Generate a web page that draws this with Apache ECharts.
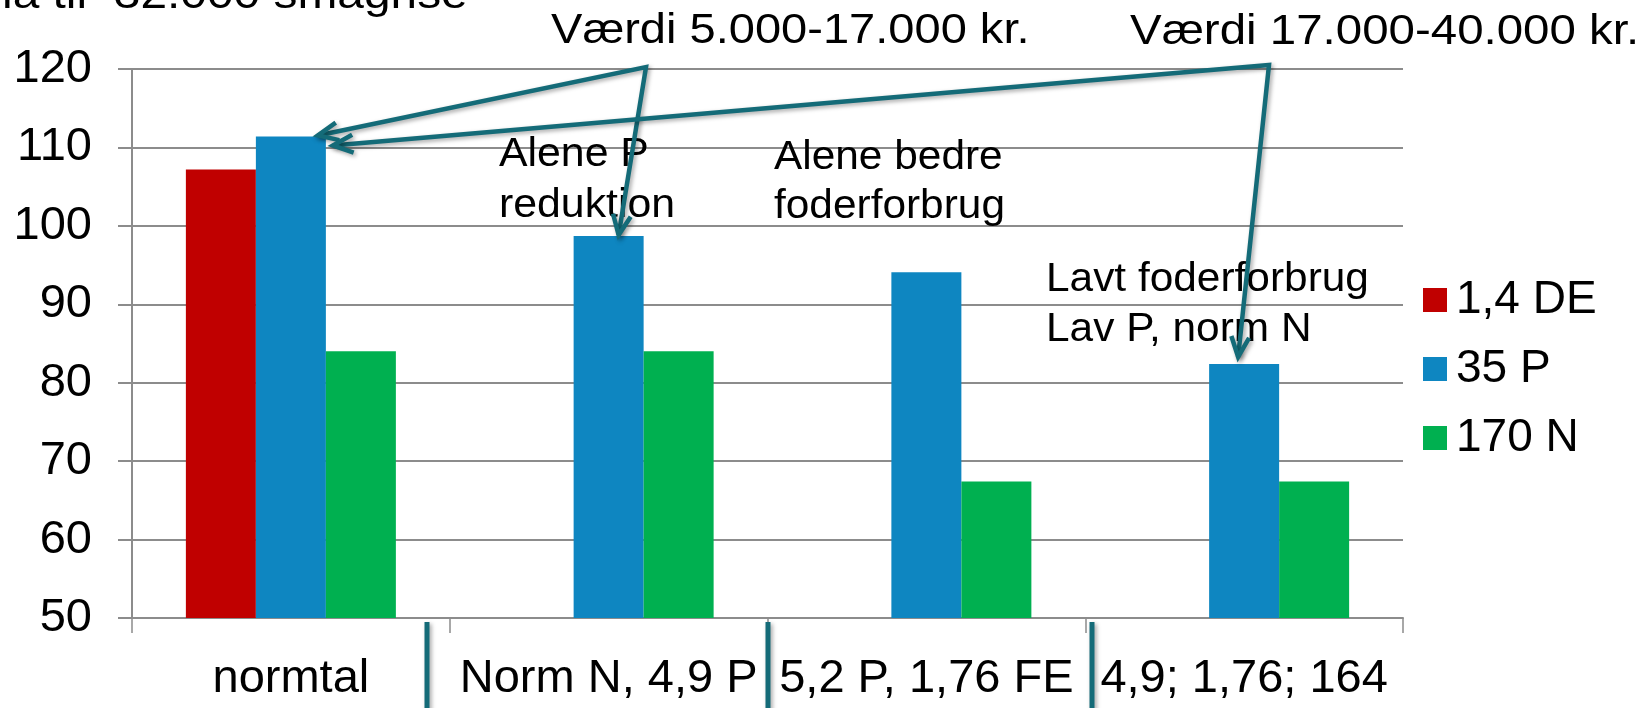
<!DOCTYPE html>
<html>
<head>
<meta charset="utf-8">
<title>Værdi af reduktion</title>
<script src="https://cdn.jsdelivr.net/npm/echarts@6/dist/echarts.min.js"></script>
<style>
  html, body { margin: 0; padding: 0; background: #fff; }
  #main { width: 1650px; height: 708px; }
</style>
</head>
<body>
<div id="main"></div>
<script>
// data
const categories = ["normtal", "Norm N, 4,9 P", "5,2 P, 1,76 FE", "4,9; 1,76; 164"];
const seriesNames = ["1,4 DE", "35 P", "170 N"];
const valuesDE = [107.2, null, null, null];
const valuesP = [111.4, 98.7, 94.1, 82.4];
const valuesN = [84.0, 84.0, 67.4, 67.4];
const yMin = 50;
const yMax = 120;
const yStep = 10;

const FONT = '"Liberation Sans", Arial, sans-serif';
const TEAL = "#146b78";
const GRID_GRAY = "#8c8c8c";

let chart = echarts.init(document.getElementById("main"), null, { renderer: "canvas" });

let option = {
  animation: false,
  backgroundColor: "#fff",
  grid: { left: 132, right: 247, top: 69, bottom: 90 },
  legend: {
    orient: "vertical",
    left: 1423,
    top: 277,
    padding: 0,
    itemWidth: 24,
    itemHeight: 24,
    itemGap: 23,
    icon: "rect",
    data: seriesNames,
    textStyle: { fontSize: 46, lineHeight: 46, fontFamily: FONT, color: "#000", padding: [0, 0, 0, 4] }
  },
  xAxis: {
    type: "category",
    data: categories,
    axisLine: { show: true, lineStyle: { color: GRID_GRAY, width: 2 } },
    axisTick: { show: true, length: 15, lineStyle: { color: GRID_GRAY, width: 1.5 } },
    axisLabel: { interval: 0, margin: 38, fontSize: 47, fontFamily: FONT, color: "#000" }
  },
  yAxis: {
    type: "value",
    min: yMin,
    max: yMax,
    interval: yStep,
    axisLine: { show: true, lineStyle: { color: GRID_GRAY, width: 2 } },
    axisTick: { show: true, length: 14, lineStyle: { color: GRID_GRAY, width: 2 } },
    splitLine: { show: true, lineStyle: { color: GRID_GRAY, width: 2 } },
    axisLabel: { margin: 40, fontSize: 47, fontFamily: FONT, color: "#000" }
  },
  series: [
    { name: seriesNames[0], type: "bar", data: valuesDE, barWidth: 70, barGap: "0%", itemStyle: { color: "#c00000" } },
    { name: seriesNames[1], type: "bar", data: valuesP, barWidth: 70, barGap: "0%", itemStyle: { color: "#0e86c1" } },
    { name: seriesNames[2], type: "bar", data: valuesN, barWidth: 70, barGap: "0%", itemStyle: { color: "#00b050" } }
  ]
};
chart.setOption(option);

// annotation arrows, tips hooked to the blue bars
function toPx(ci, v) {
  return chart.convertToPixel({ xAxisIndex: 0, yAxisIndex: 0 }, [ci, v]);
}
const shadow = { shadowBlur: 4, shadowOffsetX: 2, shadowOffsetY: 2, shadowColor: "rgba(0,0,0,0.35)" };
function lineStyle() {
  return Object.assign({ stroke: TEAL, lineWidth: 4.5, fill: null, lineJoin: "miter" }, shadow);
}
function chevron(tip, from) {
  let dx = tip[0] - from[0], dy = tip[1] - from[1];
  let len = Math.sqrt(dx * dx + dy * dy);
  let ux = dx / len, uy = dy / len;
  let arm = 22, a = 24 * Math.PI / 180;
  let p1 = [tip[0] - arm * (ux * Math.cos(a) - uy * Math.sin(a)), tip[1] - arm * (ux * Math.sin(a) + uy * Math.cos(a))];
  let p2 = [tip[0] - arm * (ux * Math.cos(-a) - uy * Math.sin(-a)), tip[1] - arm * (ux * Math.sin(-a) + uy * Math.cos(-a))];
  return { type: "polyline", shape: { points: [p1, tip, p2] }, style: lineStyle(), z: 100 };
}
function label(text, x, y, size, sx) {
  return {
    type: "text", x: x, y: y, scaleX: sx || 1, z: 90,
    style: { text: text, font: size + "px " + FONT, fill: "#000", textVerticalAlign: "middle", textAlign: "left" }
  };
}
function labelLines(lines, x, y, size, sx, lh) {
  return lines.map((t, i) => label(t, x, y + i * lh, size, sx));
}

let b0 = toPx(0, valuesP[0]);
let b1 = toPx(1, valuesP[1]);
let b3 = toPx(3, valuesP[3]);
let tipA = [b0[0] + 27, b0[1] - 1];
let tipC = [b0[0] + 42, b0[1] + 9];
let tipB = [b1[0] + 10, b1[1] - 1];
let tipD = [b3[0] - 6, b3[1] - 7];
let o1 = [646, 67];
let o2 = [1269, 65];

let graphics = [
  { type: "polyline", shape: { points: [tipA, o1, tipB] }, style: lineStyle(), z: 100 },
  { type: "polyline", shape: { points: [tipC, o2, tipD] }, style: lineStyle(), z: 100 },
  chevron(tipA, o1),
  chevron(tipB, o1),
  chevron(tipC, o2),
  chevron(tipD, o2)
];
[427, 768, 1092].forEach(x => {
  graphics.push({ type: "line", shape: { x1: x, y1: 622, x2: x, y2: 720 }, style: Object.assign({ stroke: TEAL, lineWidth: 5 }, shadow), z: 100 });
});

graphics = graphics.concat(
  [label("la til  32.000 smågrise", 2, -4, 42, 1.14)],
  [label("Værdi 5.000-17.000 kr.", 551, 31, 42, 1.12)],
  [label("Værdi 17.000-40.000 kr.", 1130, 32, 42, 1.13)],
  labelLines(["Alene P", "reduktion"], 499, 155, 40, 1.07, 51),
  labelLines(["Alene bedre", "foderforbrug"], 774, 158, 40, 1.06, 49),
  labelLines(["Lavt foderforbrug", "Lav P, norm N"], 1046, 280, 40, 1.06, 50)
);

chart.setOption({ graphic: graphics });
</script>
</body>
</html>
